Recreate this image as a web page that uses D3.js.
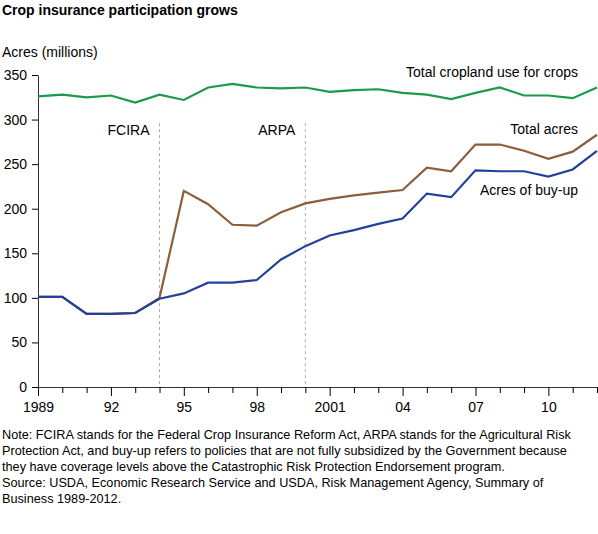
<!DOCTYPE html>
<html><head><meta charset="utf-8">
<script src="https://cdn.jsdelivr.net/npm/d3@7"></script>
<style>body{margin:0;background:#fff;font-family:"Liberation Sans",Arial,sans-serif}</style>
</head><body><svg id="c" width="598" height="534"></svg>
<script>
const years = d3.range(1989, 2013);
const cropland = [326,328,325,327,319,328,322,336,340,336,335,336,331,333,334,330,328,323,330,336,327,327,324,336];
const totalAcres = [101,101,82,82,83,100,220,205,182,181,196,206,211,215,218,221,246,242,272,272,265,256,264,283];
const buyUp = [101,101,82,82,83,99,105,117,117,120,143,158,170,176,183,189,217,213,243,242,242,236,244,265];
const yTicks = [0,50,100,150,200,250,300,350];
const xTickLabels = {1989:"1989",1992:"92",1995:"95",1998:"98",2001:"2001",2004:"04",2007:"07",2010:"10"};

const svg = d3.select("#c");
const x = d3.scaleLinear().domain([1989,2012]).range([38,597]);
const y = d3.scaleLinear().domain([0,350]).range([387,75]);
const f = "Liberation Sans, Arial, sans-serif";

svg.append("text").attr("x",2).attr("y",15).attr("font-size",14).attr("font-weight","bold").attr("font-family",f).text("Crop insurance participation grows");
svg.append("text").attr("x",2).attr("y",57).attr("font-size",14).attr("font-family",f).text("Acres (millions)");

const ya = svg.append("g").attr("transform","translate(38,0)")
  .call(d3.axisLeft(y).tickValues(yTicks).tickSize(6).tickSizeOuter(0));
ya.select(".domain").attr("stroke","#333");
ya.selectAll("text").attr("font-size",14).attr("font-family",f).attr("fill","#000").attr("dx",-2);

const xa = svg.append("g").attr("transform","translate(0,387)")
  .call(d3.axisBottom(x).tickValues(years).tickSize(6).tickSizeOuter(0).tickFormat(d=>xTickLabels[d]||""));
xa.select(".domain").attr("stroke","#333");
xa.selectAll("line").attr("y2",d=>xTickLabels[d]?9:6);
xa.selectAll("text").attr("font-size",14).attr("font-family",f).attr("fill","#000").attr("dy","1.15em");

[[1994,"FCIRA"],[2000,"ARPA"]].forEach(([yr,lab])=>{
  svg.append("line").attr("x1",x(yr)).attr("x2",x(yr)).attr("y1",y(296)).attr("y2",y(0))
    .attr("stroke","#aaa").attr("stroke-dasharray","3,3");
  svg.append("text").attr("x",x(yr)-10).attr("y",y(283)).attr("text-anchor","end")
    .attr("font-size",14).attr("font-family",f).text(lab);
});

const line = d3.line().x((d,i)=>x(years[i])).y(d=>y(d));
[[cropland,"#1a9a4a"],[totalAcres,"#8b5e3c"],[buyUp,"#23409a"]].forEach(([d,c])=>{
  svg.append("path").datum(d).attr("d",line).attr("fill","none").attr("stroke",c).attr("stroke-width",2.2);
});

[["Total cropland use for crops",77],["Total acres",134],["Acres of buy-up",195]].forEach(([t,yy])=>{
  svg.append("text").attr("x",578).attr("y",yy).attr("text-anchor","end").attr("font-size",14).attr("font-family",f).text(t);
});

const notes = ["Note: FCIRA stands for the Federal Crop Insurance Reform Act, ARPA stands for the Agricultural Risk",
"Protection Act, and buy-up refers to policies that are not fully subsidized by the Government because",
"they have coverage levels above the Catastrophic Risk Protection Endorsement program.",
"Source: USDA, Economic Research Service and USDA, Risk Management Agency, Summary of",
"Business 1989-2012."];
notes.forEach((t,i)=>svg.append("text").attr("x",2).attr("y",439+i*16).attr("font-size",12.7).attr("font-family",f).text(t));
</script></body></html>
